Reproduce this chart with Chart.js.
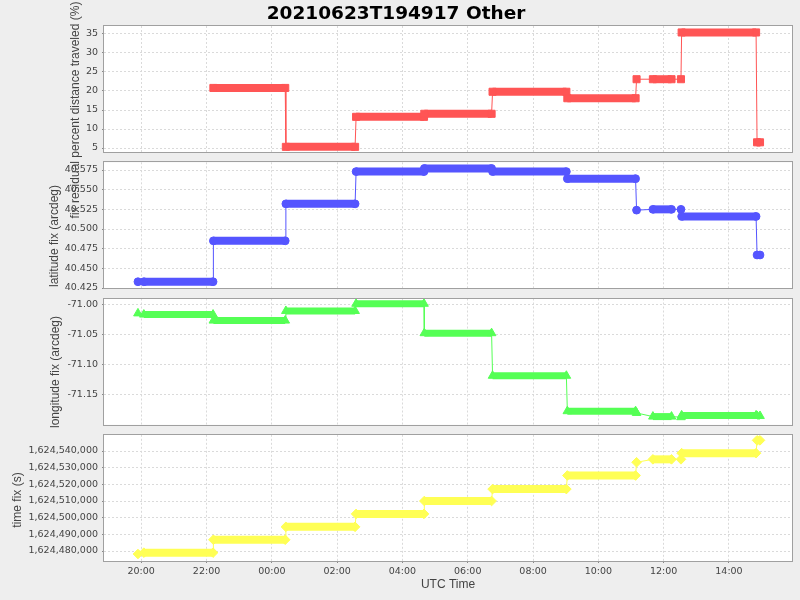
<!DOCTYPE html>
<html><head><meta charset="utf-8">
<script src="https://cdn.jsdelivr.net/npm/chart.js@4/dist/chart.umd.min.js"></script>
<style>
html,body{margin:0;padding:0;background:#eeeeee;}
#wrap{position:relative;width:800px;height:600px;background:#eeeeee;}
canvas{position:absolute;left:0;top:0;}
</style></head><body>
<div id="wrap">
<canvas id="c1" width="800" height="600"></canvas>
<canvas id="c2" width="800" height="600"></canvas>
<canvas id="c3" width="800" height="600"></canvas>
<canvas id="c4" width="800" height="600"></canvas>
</div>
<script>
const chartTitle = '20210623T194917 Other';
const xAxisTitle = 'UTC Time';
const yTitles = ['fix residual percent distance traveled (%)', 'latitude fix (arcdeg)', 'longitude fix (arcdeg)', 'time fix (s)'];

// Each fix is held over a run of samples: start / end time of each run,
// in decimal hours since 2021-06-23 00:00 UTC.
const runStart = [19.90, 20.08, 22.21, 24.43, 26.58, 28.67, 30.76, 33.05, 35.17, 35.67, 36.53, 36.55, 38.86];
const runEnd   = [19.90, 22.20, 24.41, 26.55, 28.66, 30.73, 33.02, 35.14, 35.17, 36.24, 36.53, 38.83, 38.95];

const pctDistance  = [null, null, 20.8, 5.3, 13.2, 14.0, 19.8, 18.1, 23.1, 23.1, 23.1, 35.4, 6.5];
const latitudeFix  = [40.433, 40.433, 40.485, 40.532, 40.573, 40.577, 40.573, 40.564, 40.524, 40.525, 40.525, 40.516, 40.467];
const longitudeFix = [-71.014, -71.016, -71.026, -71.010, -70.998, -71.047, -71.118, -71.177, -71.180, -71.186, -71.187, -71.184, -71.185];
const timeFix      = [1624478200, 1624479000, 1624486750, 1624494500, 1624502250, 1624510000, 1624517150, 1624525300, 1624533250, 1624535000, 1624535000, 1624538700, 1624546400];

const xMin = 18.86, xMax = 39.93, xStep = 2;

function fmtTime(v){
  const m = Math.round(v*60);
  const h = Math.floor(m/60) % 24, mm = ((m % 60)+60)%60;
  return String(h).padStart(2,'0') + ':' + String(mm).padStart(2,'0');
}

const panels = [
  {id:'c1', values:pctDistance, color:'#ff5555', style:'rect', radius:5.0, band:8,
   top:26, bottom:152, min:3.95, max:37.1, step:5, fmt:v=>String(Math.round(v)), tx:76, ty:110},
  {id:'c2', values:latitudeFix, color:'#5555ff', style:'circle', radius:3.9, band:8,
   top:162.3, bottom:288.5, min:40.4244, max:40.5848, step:0.025, fmt:v=>v.toFixed(3), tx:55, ty:236},
  {id:'c3', values:longitudeFix, color:'#55ff55', style:'triangle', radius:5.0, band:7,
   top:298.5, bottom:424.8, min:-71.1997, max:-70.9892, step:0.05, fmt:v=>v.toFixed(2), tx:55.5, ty:372},
  {id:'c4', values:timeFix, color:'#ffff55', style:'rectRot', radius:4.8, band:8,
   top:434.8, bottom:561, min:1624474000, max:1624549720, step:null, maxTicks:9, fmt:v=>Math.round(v).toLocaleString('en-US'), tx:18, ty:500}
];

const framePlugin = {
  id:'frame',
  beforeDraw(chart){
    const {ctx, chartArea:a} = chart;
    ctx.save(); ctx.fillStyle = '#ffffff';
    ctx.fillRect(a.left, a.top, a.right-a.left, a.bottom-a.top);
    ctx.restore();
  },
  afterDraw(chart, args, opts){
    const {ctx, chartArea:a} = chart;
    ctx.save();
    ctx.strokeStyle = '#a0a0a0'; ctx.lineWidth = 1;
    ctx.strokeRect(Math.round(a.left)-0.5, Math.round(a.top)-0.5, Math.round(a.right-a.left)+1, Math.round(a.bottom-a.top)+1);
    ctx.fillStyle = '#444444';
    ctx.font = '12px "Liberation Sans", Arial, sans-serif';
    ctx.textAlign = 'center'; ctx.textBaseline = 'middle';
    ctx.translate(opts.x, opts.y); ctx.rotate(-Math.PI/2);
    ctx.fillText(opts.text, 0, 0);
    ctx.restore();
  }
};

panels.forEach((p, k) => {
  const isFirst = k === 0, isLast = k === panels.length - 1;
  const pts = [];
  runStart.forEach((s, i) => {
    const v = p.values[i];
    if (v === null) return;
    pts.push({x:s, y:v, run:i});
    if (runEnd[i] !== s) pts.push({x:runEnd[i], y:v, run:i});
  });
  const yTicks = {includeBounds:false, callback:p.fmt,
    font:{family:'DejaVu Sans', size:9.5}, color:'#444444', padding:4, autoSkip:false};
  if (p.step) yTicks.stepSize = p.step;
  if (p.maxTicks) yTicks.maxTicksLimit = p.maxTicks;
  new Chart(document.getElementById(p.id), {
    type:'scatter',
    data:{datasets:[{
      data:pts, showLine:true,
      borderColor:p.color, backgroundColor:p.color, borderWidth:1,
      borderCapStyle:'butt', borderJoinStyle:'miter',
      pointStyle:p.style, pointRadius:p.radius, pointBorderWidth:1,
      pointBackgroundColor:p.color, pointBorderColor:p.color,
      segment:{borderWidth: c => pts[c.p0DataIndex].run === pts[c.p1DataIndex].run ? p.band : 1},
      clip:false
    }]},
    options:{
      responsive:false, animation:false, devicePixelRatio:1, events:[],
      layout:{padding:{left:0, right:8, top:isFirst ? 0 : p.top, bottom:isLast ? 0 : 600 - p.bottom}},
      plugins:{
        legend:{display:false}, tooltip:{enabled:false},
        title:{display:isFirst, text:chartTitle, color:'#000000',
          font:{family:'DejaVu Sans', size:18.5, weight:'bold'}, padding:{top:3, bottom:0.8}},
        frame:{text:yTitles[k], x:p.tx, y:p.ty}
      },
      scales:{
        x:{type:'linear', min:xMin, max:xMax,
          ticks:{stepSize:xStep, includeBounds:false, display:isLast, callback:fmtTime,
            font:{family:'DejaVu Sans', size:9.5}, color:'#444444', padding:3, maxRotation:0, autoSkip:false},
          grid:{color:'#dadada', drawTicks:isLast, tickLength:2, tickColor:'#888888'},
          border:{display:false, dash:[2,2]},
          title:{display:isLast, text:xAxisTitle, color:'#444444',
            font:{family:'Liberation Sans', size:12}, padding:8},
          afterFit:s => { s.height = isLast ? 39 : 0; }
        },
        y:{type:'linear', min:p.min, max:p.max,
          ticks:yTicks,
          grid:{color:'#dadada', tickLength:2, tickColor:'#888888'},
          border:{display:false, dash:[2,2]},
          afterFit:s => { s.width = 104; }
        }
      }
    },
    plugins:[framePlugin]
  });
});
</script>
</body></html>
